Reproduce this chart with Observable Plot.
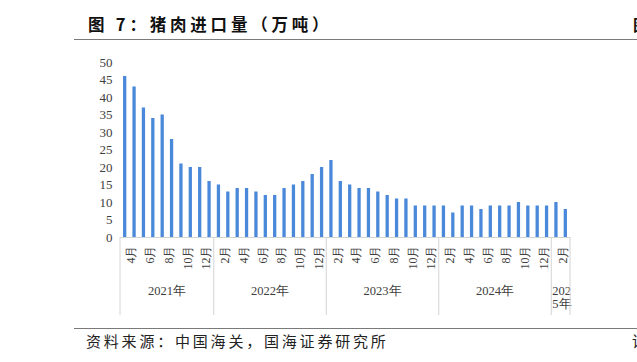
<!DOCTYPE html>
<html><head><meta charset="utf-8">
<script src="https://cdn.jsdelivr.net/npm/d3@7"></script>
<script src="https://cdn.jsdelivr.net/npm/@observablehq/plot@0.6"></script>
<style>
html,body{margin:0;padding:0;background:#fff;overflow:hidden;}
#wrap{position:relative;width:637px;height:362px;overflow:hidden;background:#fff;}
#chart{position:absolute;left:0;top:0;}
#title{position:absolute;left:88px;top:12px;line-height:24px;font-family:"Noto Sans CJK SC",sans-serif;font-weight:bold;font-size:16.5px;letter-spacing:3.8px;color:#111;white-space:nowrap;}
#titlecut{position:absolute;left:633px;top:12px;line-height:24px;font-family:"Noto Sans CJK SC",sans-serif;font-weight:bold;font-size:16px;color:#111;}
#rule1{position:absolute;left:74px;top:39px;width:563px;height:0;border-top:1.5px solid #7a7a7a;}
#rule2{position:absolute;left:74px;top:328px;width:563px;height:0;border-top:1.5px solid #7a7a7a;}
#caption{position:absolute;left:86px;top:331px;line-height:20px;font-family:"Noto Sans CJK SC",sans-serif;font-size:15px;letter-spacing:2.8px;color:#222;white-space:nowrap;}
#capcut{position:absolute;left:632px;top:331px;line-height:20px;font-family:"Noto Sans CJK SC",sans-serif;font-size:15px;color:#222;}
</style>
</head><body>
<div id="wrap">
  <div id="chart"></div>
  <div id="title">图 7：猪肉进口量（万吨）</div>
  <div id="titlecut">图</div>
  <div id="rule1"></div>
  <div id="rule2"></div>
  <div id="caption">资料来源：中国海关，国海证券研究所</div>
  <div id="capcut">请</div>
</div>
<script>
// ---- data ----
const years = [2021, 2022, 2023, 2024, 2025];
const startMonths = [3, 1, 1, 1, 1];
const v2021 = [46, 43, 37, 34, 35, 28, 21, 20, 20, 16];
const v2022 = [15, 13, 14, 14, 13, 12, 12, 14, 15, 16, 18, 20];
const v2023 = [22, 16, 15, 14, 14, 13, 12, 11, 11, 9, 9, 9];
const v2024 = [9, 7, 9, 9, 8, 9, 9, 9, 10, 9, 9, 9];
const v2025 = [10, 8];
const yearValues = [v2021, v2022, v2023, v2024, v2025];
const yTicks = [0, 5, 10, 15, 20, 25, 30, 35, 40, 45, 50];

const data = [];
years.forEach((yr, i) => {
  yearValues[i].forEach((v, j) => {
    const m = startMonths[i] + j;
    data.push({year: yr, month: m, key: yr + "-" + m, value: v});
  });
});

const barColor = "#4a88d9";
const textColor = "#404040";

function yearGroups(index, scales, values, dims) {
  const x = scales.x, y = scales.y;
  const step = x(data[1].key) - x(data[0].key);
  let bw = typeof x.bandwidth === "function" ? x.bandwidth() : x.bandwidth;
  if (bw == null || isNaN(bw)) bw = step * 0.35;
  const gap = (step - bw) / 2;
  const y0 = y(0);
  const g = d3.create("svg:g");
  const bounds = [];
  years.forEach((yr, i) => {
    const ds = data.filter(d => d.year === yr);
    const left = x(ds[0].key) - gap;
    const right = x(ds[ds.length - 1].key) + bw + gap;
    bounds.push(left);
    if (i === years.length - 1) bounds.push(right);
    const label = yr + "年";
    const t = g.append("text")
      .attr("font-family", "Liberation Serif, serif")
      .attr("font-size", 12.5)
      .attr("fill", textColor);
    if (right - left < 40) {
      t.attr("text-anchor", "start");
      t.append("tspan").attr("x", left + 1).attr("y", y0 + 54).attr("dy", "0.35em").text(label.slice(0, 3));
      t.append("tspan").attr("x", left + 1).attr("y", y0 + 67).attr("dy", "0.35em").text(label.slice(3));
    } else {
      t.attr("text-anchor", "middle")
        .attr("x", (left + right) / 2).attr("y", y0 + 54).attr("dy", "0.35em").text(label);
    }
  });
  bounds.forEach(b => {
    g.append("line").attr("x1", b).attr("x2", b).attr("y1", y0).attr("y2", y0 + 78)
      .attr("stroke", "#d4d4d4").attr("stroke-width", 1);
  });
  return g.node();
}

const chart = Plot.plot({
  width: 637,
  height: 362,
  marginLeft: 120,
  marginRight: 67,
  marginTop: 62,
  marginBottom: 125,
  style: {background: "transparent", color: textColor, overflow: "visible"},
  x: {type: "band", domain: data.map(d => d.key), paddingInner: 0.65, paddingOuter: 0.325, round: false, axis: null},
  y: {domain: [0, 50], axis: null},
  marks: [
    Plot.axisY({ticks: yTicks, tickSize: 0, tickPadding: 8, label: null, fontSize: 13, fontFamily: "Liberation Serif, serif", tickFormat: d => String(d)}),
    Plot.barY(data, {x: "key", y: "value", fill: barColor}),
    Plot.ruleY([0], {stroke: "#d4d4d4"}),
    Plot.text(data.filter(d => d.month % 2 === 0), {
      x: "key", y: () => 0, text: d => d.month + "月",
      rotate: -90, textAnchor: "end", dy: 8, dx: -3,
      fontSize: 12, fontFamily: "Liberation Serif, serif", fill: textColor
    }),
    yearGroups
  ]
});
document.getElementById("chart").appendChild(chart);
</script>
</body></html>
